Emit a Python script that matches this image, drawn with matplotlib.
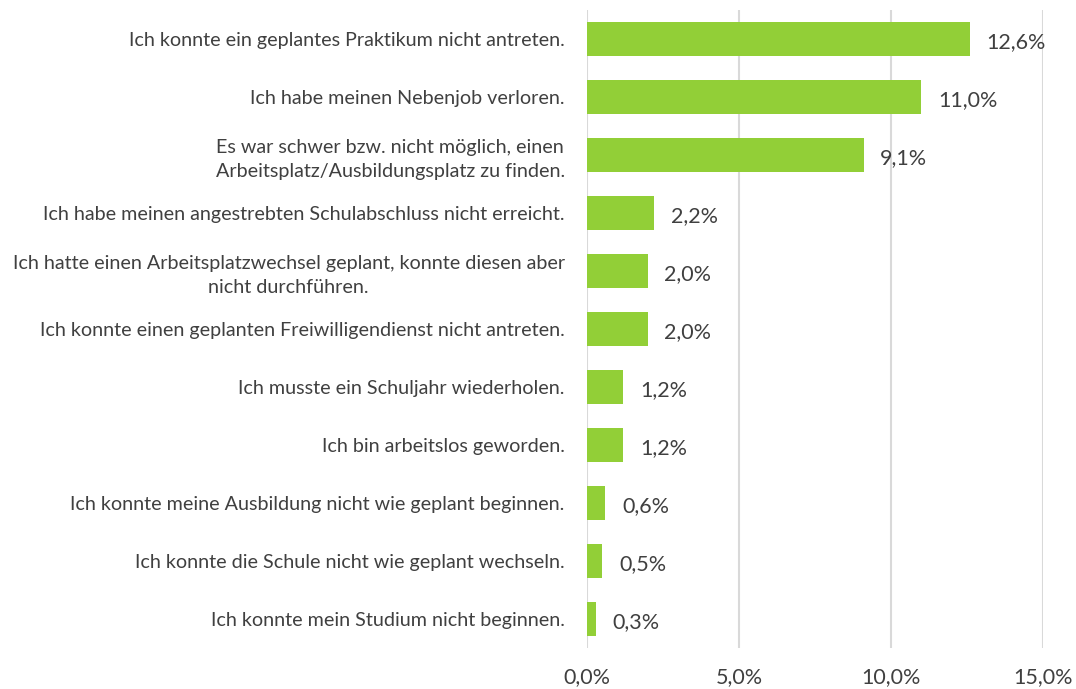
import matplotlib.pyplot as plt
from matplotlib.ticker import FuncFormatter

plt.rcParams['font.family'] = ['Lato', 'DejaVu Sans']

# Anteile in Prozent, von oben nach unten
labels = [
    "Ich konnte ein geplantes Praktikum nicht antreten.",
    "Ich habe meinen Nebenjob verloren.",
    "Es war schwer bzw. nicht möglich, einen\nArbeitsplatz/Ausbildungsplatz zu finden.",
    "Ich habe meinen angestrebten Schulabschluss nicht erreicht.",
    "Ich hatte einen Arbeitsplatzwechsel geplant, konnte diesen aber\nnicht durchführen.",
    "Ich konnte einen geplanten Freiwilligendienst nicht antreten.",
    "Ich musste ein Schuljahr wiederholen.",
    "Ich bin arbeitslos geworden.",
    "Ich konnte meine Ausbildung nicht wie geplant beginnen.",
    "Ich konnte die Schule nicht wie geplant wechseln.",
    "Ich konnte mein Studium nicht beginnen.",
]
values = [12.6, 11.0, 9.1, 2.2, 2.0, 2.0, 1.2, 1.2, 0.6, 0.5, 0.3]
xticks = [0, 5, 10, 15]

text_col = '#404040'
grid_col = '#D9D9D9'

fig = plt.figure(figsize=(10.76, 6.89), dpi=100)
ax = fig.add_axes([0.5455, 0.0595, 0.4238, 0.926])

pos = list(range(len(values)))
ax.barh(pos, values, height=0.59, color='#92CF37', zorder=3)
ax.set_ylim(len(values) - 0.5, -0.5)
ax.set_xlim(0, 15)

ax.set_xticks(xticks)
ax.xaxis.set_major_formatter(FuncFormatter(lambda v, p: f"{v:.1f}%".replace('.', ',')))
ax.set_yticks(pos)
ax.set_yticklabels(labels, multialignment='center', linespacing=1.45)

ax.tick_params(axis='y', length=0, pad=16, labelsize=14.2, labelcolor=text_col)
ax.tick_params(axis='x', length=0, pad=14, labelsize=15.5, labelcolor=text_col)

ax.grid(True, axis='x', color=grid_col, linewidth=1.5, zorder=0)
for s in ax.spines.values():
    s.set_visible(False)

for y, v in zip(pos, values):
    ax.text(v + 0.55, y + 0.05, f"{v:.1f}%".replace('.', ','), va='center', ha='left',
            fontsize=15.5, color=text_col, zorder=4)

fig.savefig('out.png', dpi=100)
